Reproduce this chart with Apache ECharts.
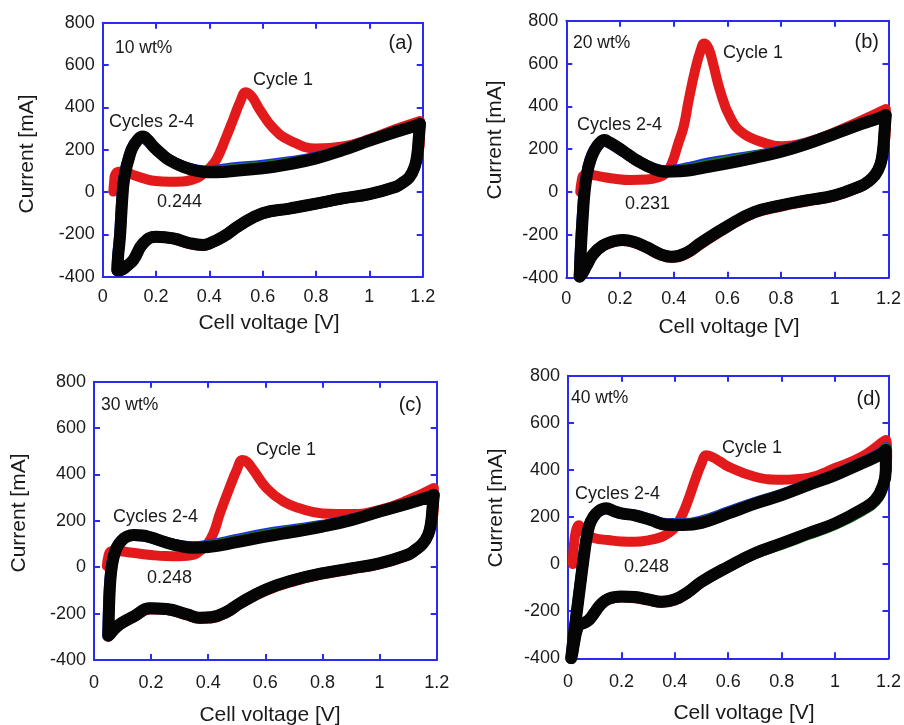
<!DOCTYPE html>
<html>
<head>
<meta charset="utf-8">
<script src="https://cdn.jsdelivr.net/npm/echarts@6/dist/echarts.min.js"></script>
<style>
  html, body { margin: 0; padding: 0; background: #ffffff; }
  #chart { width: 904px; height: 725px; }
</style>
</head>
<body>
<div id="chart"></div>
<script>
// Cyclic voltammograms, [cell voltage (V), current (mA)] along each sweep.

// ---- (a) 10 wt% ----
const cycle1A = [[0.04,2],[0.043,50],[0.047,82],[0.06,96],[0.077,96],[0.12,78],[0.16,62],[0.2,52],[0.25,49],[0.3,50],[0.34,60],[0.365,74],[0.4,112],[0.427,155],[0.46,250],[0.49,345],[0.515,425],[0.537,472],[0.56,450],[0.59,387],[0.64,301],[0.7,245],[0.8,206],[0.9,215],[1.0,250],[1.1,298],[1.19,336],[1.19,250],[1.182,170],[1.168,112],[1.148,66],[1.12,37],[1.1,22],[1.0,-13],[0.9,-33],[0.8,-58],[0.7,-80],[0.6,-104],[0.515,-160],[0.452,-215],[0.4,-247],[0.377,-254],[0.327,-246],[0.265,-223],[0.2,-214],[0.152,-245],[0.115,-323],[0.09,-352],[0.07,-370],[0.055,-372]];
const cycle2A = [[0.053,-370],[0.056,-300],[0.06,-250],[0.064,-190],[0.068,-100],[0.072,-20],[0.076,40],[0.084,100],[0.094,150],[0.108,203],[0.128,243],[0.148,258],[0.168,242],[0.19,213],[0.22,180],[0.25,152],[0.3,122],[0.35,104],[0.4,99],[0.45,108],[0.5,116],[0.6,127],[0.7,143],[0.8,165],[0.9,200],[1.0,244],[1.1,286],[1.17,313],[1.19,324],[1.185,250],[1.18,180],[1.17,120],[1.15,70],[1.12,40],[1.1,25],[1.0,-10],[0.9,-30],[0.8,-55],[0.7,-78],[0.6,-100],[0.515,-156],[0.452,-211],[0.4,-243],[0.377,-250],[0.327,-242],[0.265,-219],[0.2,-211],[0.152,-242],[0.115,-321],[0.09,-350],[0.07,-368],[0.055,-370]];
const cycle3A = [[0.055,-370],[0.058,-300],[0.062,-250],[0.066,-190],[0.07,-100],[0.074,-20],[0.078,40],[0.086,100],[0.096,150],[0.11,205],[0.13,245],[0.15,261],[0.17,244],[0.19,214],[0.22,180],[0.25,151],[0.3,121],[0.35,102],[0.4,96],[0.45,101],[0.5,109],[0.6,120],[0.7,137],[0.8,162],[0.9,199],[1.0,243],[1.1,285],[1.17,312],[1.19,322],[1.185,250],[1.18,180],[1.17,120],[1.15,70],[1.12,40],[1.1,25],[1.0,-10],[0.9,-30],[0.8,-55],[0.7,-78],[0.6,-100],[0.515,-156],[0.452,-211],[0.4,-243],[0.377,-250],[0.327,-242],[0.265,-219],[0.2,-211],[0.152,-242],[0.115,-321],[0.09,-350],[0.07,-368],[0.055,-370]];
const cycle4A = [[0.055,-370],[0.058,-300],[0.062,-250],[0.066,-190],[0.07,-100],[0.074,-20],[0.078,40],[0.086,100],[0.096,150],[0.11,205],[0.13,245],[0.15,262],[0.17,245],[0.19,215],[0.22,180],[0.25,151],[0.3,120],[0.35,101],[0.4,93],[0.45,95],[0.5,101],[0.6,112],[0.7,132],[0.8,159],[0.9,198],[1.0,243],[1.1,285],[1.17,312],[1.19,322],[1.185,250],[1.18,180],[1.17,120],[1.15,70],[1.12,40],[1.1,25],[1.0,-10],[0.9,-30],[0.8,-55],[0.7,-78],[0.6,-100],[0.515,-156],[0.452,-211],[0.4,-243],[0.377,-250],[0.327,-242],[0.265,-219],[0.2,-211],[0.152,-242],[0.115,-321],[0.09,-350],[0.07,-368],[0.055,-370]];

// ---- (b) 20 wt% ----
const cycle1B = [[0.052,0],[0.057,50],[0.065,78],[0.09,80],[0.13,72],[0.18,62],[0.24,56],[0.3,58],[0.34,68],[0.37,87],[0.393,134],[0.417,227],[0.437,305],[0.456,430],[0.48,570],[0.5,660],[0.514,694],[0.53,670],[0.548,593],[0.572,476],[0.609,352],[0.658,274],[0.744,227],[0.8,214],[0.9,234],[1.0,280],[1.1,335],[1.19,388],[1.19,290],[1.182,200],[1.168,128],[1.148,76],[1.12,42],[1.1,26],[1.0,-20],[0.9,-43],[0.8,-68],[0.7,-100],[0.6,-166],[0.5,-246],[0.45,-288],[0.393,-308],[0.35,-296],[0.3,-263],[0.25,-237],[0.21,-229],[0.17,-236],[0.136,-254],[0.1,-293],[0.075,-347],[0.06,-382],[0.05,-396]];
const cycle2B = [[0.048,-395],[0.051,-300],[0.055,-200],[0.06,-100],[0.066,0],[0.076,90],[0.088,150],[0.103,195],[0.123,228],[0.14,240],[0.158,230],[0.195,202],[0.23,174],[0.26,150],[0.32,113],[0.368,100],[0.42,106],[0.467,118],[0.53,136],[0.6,150],[0.7,170],[0.8,194],[0.9,229],[1.0,273],[1.1,318],[1.17,348],[1.19,360],[1.185,280],[1.18,200],[1.17,130],[1.15,80],[1.12,45],[1.1,30],[1.0,-15],[0.9,-38],[0.8,-62],[0.7,-94],[0.6,-160],[0.5,-238],[0.45,-282],[0.393,-302],[0.35,-290],[0.3,-258],[0.25,-232],[0.21,-224],[0.17,-232],[0.136,-250],[0.1,-290],[0.075,-345],[0.06,-380],[0.05,-395]];
const cycle3B = [[0.05,-395],[0.053,-300],[0.057,-200],[0.062,-100],[0.068,0],[0.078,90],[0.09,150],[0.105,195],[0.125,230],[0.142,242],[0.16,232],[0.197,204],[0.23,175],[0.26,150],[0.32,112],[0.368,97],[0.42,101],[0.467,110],[0.53,128],[0.6,144],[0.7,166],[0.8,191],[0.9,228],[1.0,272],[1.1,318],[1.17,348],[1.19,360],[1.185,280],[1.18,200],[1.17,130],[1.15,80],[1.12,45],[1.1,30],[1.0,-15],[0.9,-38],[0.8,-62],[0.7,-94],[0.6,-160],[0.5,-238],[0.45,-282],[0.393,-302],[0.35,-290],[0.3,-258],[0.25,-232],[0.21,-224],[0.17,-232],[0.136,-250],[0.1,-290],[0.075,-345],[0.06,-380],[0.05,-395]];
const cycle4B = [[0.05,-395],[0.053,-300],[0.057,-200],[0.062,-100],[0.068,0],[0.078,90],[0.09,150],[0.105,195],[0.125,230],[0.142,243],[0.16,232],[0.197,204],[0.23,175],[0.26,150],[0.32,111],[0.368,95],[0.42,97],[0.467,103],[0.53,118],[0.6,134],[0.7,160],[0.8,188],[0.9,226],[1.0,272],[1.1,318],[1.17,348],[1.19,360],[1.185,280],[1.18,200],[1.17,130],[1.15,80],[1.12,45],[1.1,30],[1.0,-15],[0.9,-38],[0.8,-62],[0.7,-94],[0.6,-160],[0.5,-238],[0.45,-282],[0.393,-302],[0.35,-290],[0.3,-258],[0.25,-232],[0.21,-224],[0.17,-232],[0.136,-250],[0.1,-290],[0.075,-345],[0.06,-380],[0.05,-395]];

// ---- (c) 30 wt% ----
const cycle1C = [[0.045,5],[0.05,45],[0.058,68],[0.075,72],[0.1,68],[0.15,60],[0.2,53],[0.25,48],[0.3,47],[0.35,54],[0.38,80],[0.395,96],[0.418,146],[0.441,232],[0.476,347],[0.5,420],[0.52,462],[0.535,455],[0.558,419],[0.605,340],[0.663,283],[0.72,254],[0.8,232],[0.9,229],[1.0,247],[1.1,290],[1.19,342],[1.19,260],[1.182,185],[1.168,135],[1.148,95],[1.12,65],[1.1,50],[1.0,12],[0.9,-10],[0.8,-31],[0.7,-61],[0.6,-103],[0.51,-161],[0.465,-197],[0.41,-221],[0.37,-223],[0.325,-208],[0.254,-185],[0.196,-182],[0.138,-217],[0.1,-242],[0.08,-260],[0.065,-279],[0.055,-294],[0.05,-300]];
const cycle2C = [[0.048,-295],[0.05,-200],[0.053,-100],[0.058,-20],[0.066,40],[0.078,85],[0.093,112],[0.113,131],[0.14,137],[0.17,135],[0.2,127],[0.25,108],[0.3,94],[0.35,88],[0.4,95],[0.5,120],[0.6,145],[0.7,163],[0.8,181],[0.9,206],[1.0,241],[1.1,276],[1.17,303],[1.19,314],[1.185,250],[1.18,190],[1.17,140],[1.15,100],[1.12,70],[1.1,55],[1.0,17],[0.9,-5],[0.8,-26],[0.7,-55],[0.6,-97],[0.51,-156],[0.465,-192],[0.41,-216],[0.37,-218],[0.325,-203],[0.254,-180],[0.196,-177],[0.138,-213],[0.1,-238],[0.08,-256],[0.065,-275],[0.055,-290],[0.05,-295]];
const cycle3C = [[0.05,-295],[0.052,-200],[0.055,-100],[0.06,-20],[0.068,40],[0.08,85],[0.095,112],[0.115,132],[0.14,139],[0.17,137],[0.2,128],[0.25,108],[0.3,93],[0.35,86],[0.4,91],[0.5,114],[0.6,139],[0.7,158],[0.8,178],[0.9,204],[1.0,240],[1.1,275],[1.17,302],[1.19,312],[1.185,250],[1.18,190],[1.17,140],[1.15,100],[1.12,70],[1.1,55],[1.0,17],[0.9,-5],[0.8,-26],[0.7,-55],[0.6,-97],[0.51,-156],[0.465,-192],[0.41,-216],[0.37,-218],[0.325,-203],[0.254,-180],[0.196,-177],[0.138,-213],[0.1,-238],[0.08,-256],[0.065,-275],[0.055,-290],[0.05,-295]];
const cycle4C = [[0.05,-295],[0.052,-200],[0.055,-100],[0.06,-20],[0.068,40],[0.08,85],[0.095,112],[0.115,132],[0.14,139],[0.17,137],[0.2,128],[0.25,108],[0.3,92],[0.35,84],[0.4,87],[0.5,108],[0.6,132],[0.7,153],[0.8,175],[0.9,203],[1.0,240],[1.1,275],[1.17,302],[1.19,312],[1.185,250],[1.18,190],[1.17,140],[1.15,100],[1.12,70],[1.1,55],[1.0,17],[0.9,-5],[0.8,-26],[0.7,-55],[0.6,-97],[0.51,-156],[0.465,-192],[0.41,-216],[0.37,-218],[0.325,-203],[0.254,-180],[0.196,-177],[0.138,-213],[0.1,-238],[0.08,-256],[0.065,-275],[0.055,-290],[0.05,-295]];

// ---- (d) 40 wt% ----
const cycle1D = [[0.018,0],[0.02,50],[0.025,110],[0.032,150],[0.04,165],[0.05,150],[0.064,130],[0.1,110],[0.15,102],[0.2,96],[0.25,95],[0.3,101],[0.35,115],[0.38,135],[0.4,155],[0.43,215],[0.45,272],[0.48,370],[0.5,428],[0.517,462],[0.54,455],[0.57,435],[0.6,414],[0.7,371],[0.8,358],[0.9,366],[1.0,408],[1.1,456],[1.19,527],[1.195,450],[1.19,380],[1.18,335],[1.15,270],[1.1,229],[1.0,169],[0.9,127],[0.8,84],[0.7,42],[0.6,-15],[0.5,-79],[0.45,-123],[0.4,-155],[0.35,-165],[0.3,-155],[0.25,-145],[0.2,-142],[0.15,-152],[0.12,-178],[0.1,-208],[0.08,-238],[0.06,-253],[0.045,-259],[0.035,-275],[0.025,-322],[0.016,-382],[0.012,-400]];
const cycle2D = [[0.011,-400],[0.019,-320],[0.029,-230],[0.039,-140],[0.049,-50],[0.057,20],[0.067,100],[0.079,165],[0.094,200],[0.114,224],[0.142,234],[0.17,224],[0.2,214],[0.25,208],[0.31,190],[0.37,172],[0.43,172],[0.5,184],[0.6,222],[0.7,262],[0.8,297],[0.9,339],[1.0,381],[1.1,432],[1.17,472],[1.19,495],[1.19,400],[1.18,335],[1.15,272],[1.1,232],[1.0,173],[0.9,131],[0.8,88],[0.7,46],[0.6,-11],[0.5,-75],[0.45,-118],[0.4,-150],[0.35,-160],[0.3,-150],[0.25,-140],[0.2,-138],[0.15,-148],[0.12,-175],[0.1,-205],[0.08,-235],[0.06,-250],[0.045,-256],[0.035,-272],[0.025,-320],[0.016,-380],[0.012,-400]];
const cycle3D = [[0.012,-400],[0.02,-320],[0.03,-230],[0.04,-140],[0.05,-50],[0.058,20],[0.068,100],[0.08,165],[0.095,200],[0.115,225],[0.143,236],[0.17,226],[0.2,215],[0.25,207],[0.31,188],[0.37,169],[0.43,169],[0.5,179],[0.6,218],[0.7,259],[0.8,295],[0.9,337],[1.0,379],[1.1,430],[1.17,469],[1.19,492],[1.19,400],[1.18,330],[1.15,266],[1.1,226],[1.0,168],[0.9,126],[0.8,84],[0.7,44],[0.6,-12],[0.5,-75],[0.45,-118],[0.4,-150],[0.35,-160],[0.3,-150],[0.25,-140],[0.2,-138],[0.15,-148],[0.12,-175],[0.1,-205],[0.08,-235],[0.06,-250],[0.045,-256],[0.035,-272],[0.025,-320],[0.016,-380],[0.012,-400]];
const cycle4D = [[0.012,-400],[0.02,-320],[0.03,-230],[0.04,-140],[0.05,-50],[0.058,20],[0.068,100],[0.08,165],[0.095,200],[0.115,225],[0.143,237],[0.17,226],[0.2,215],[0.25,207],[0.31,187],[0.37,167],[0.43,166],[0.5,175],[0.6,215],[0.7,257],[0.8,293],[0.9,336],[1.0,378],[1.1,428],[1.17,465],[1.19,485],[1.19,400],[1.18,335],[1.15,272],[1.1,232],[1.0,173],[0.9,131],[0.8,88],[0.7,46],[0.6,-11],[0.5,-75],[0.45,-118],[0.4,-150],[0.35,-160],[0.3,-150],[0.25,-140],[0.2,-138],[0.15,-148],[0.12,-175],[0.1,-205],[0.08,-235],[0.06,-250],[0.045,-256],[0.035,-272],[0.025,-320],[0.016,-380],[0.012,-400]];

// Panel texts
const panelTags = ['(a)', '(b)', '(c)', '(d)'];
const loadings = ['10 wt%', '20 wt%', '30 wt%', '40 wt%'];
const minimumVoltages = ['0.244', '0.231', '0.248', '0.248'];
const firstCycleLabel = 'Cycle 1';
const laterCycleLabel = 'Cycles 2-4';
const xTitle = 'Cell voltage [V]';
const yTitle = 'Current [mA]';
const voltRange = [0, 1.2, 0.2];
const currentRange = [-400, 800, 200];

const cycleSets = [
  [cycle1A, cycle2A, cycle3A, cycle4A],
  [cycle1B, cycle2B, cycle3B, cycle4B],
  [cycle1C, cycle2C, cycle3C, cycle4C],
  [cycle1D, cycle2D, cycle3D, cycle4D]
];

// Layout of the four panels (pixels)
const layout = [
  { left: 102.7, top: 22.7, width: 320, height: 254, xLabelMargin: 11, clip: false,
    yTitle: [27, 154], xTitle: [269, 323], load: [115, 48], tag: [413, 43],
    c1: [253, 80], c24: [109, 122], vmin: [157, 202] },
  { left: 566.3, top: 20.7, width: 326.4, height: 257, xLabelMargin: 12, clip: false,
    yTitle: [495, 140], xTitle: [729, 327], load: [573, 43], tag: [879, 42],
    c1: [723, 53], c24: [577, 125], vmin: [625, 204] },
  { left: 94, top: 381.7, width: 342.7, height: 278.3, xLabelMargin: 14, clip: false,
    yTitle: [19, 513], xTitle: [270, 715], load: [101, 405], tag: [422, 405],
    c1: [256, 450], c24: [113, 517], vmin: [147, 578] },
  { left: 568, top: 375.7, width: 326.7, height: 282.6, xLabelMargin: 15, clip: true,
    yTitle: [496, 508], xTitle: [744, 713], load: [571, 398], tag: [881, 399],
    c1: [722, 448], c24: [575, 494], vmin: [624, 567] }
];

const FONT = '"Liberation Sans", Arial, Helvetica, sans-serif';
const FRAME = '#2a2af2';
const TEXT = '#1a1a1a';
const cycleColors = ['#e31a1c', '#1c2ee6', '#1c7a24', '#050505'];
const cycleWidths = [10, 11, 11, 12];

const grids = [], xAxes = [], yAxes = [], series = [], graphics = [];

layout.forEach((L, i) => {
  grids.push({ left: L.left, top: L.top, width: L.width, height: L.height });

  const frameLine = { show: true, onZero: false, lineStyle: { color: FRAME, width: 2 } };
  const frameTick = { show: true, inside: true, length: 6, lineStyle: { color: FRAME, width: 2 } };

  ['bottom', 'top'].forEach(pos => {
    xAxes.push({
      type: 'value', gridIndex: i, position: pos,
      min: voltRange[0], max: voltRange[1], interval: voltRange[2],
      axisLine: frameLine, axisTick: frameTick, splitLine: { show: false },
      axisLabel: pos === 'bottom'
        ? { show: true, margin: L.xLabelMargin, fontSize: 18, color: TEXT, fontFamily: FONT }
        : { show: false }
    });
  });
  ['left', 'right'].forEach(pos => {
    yAxes.push({
      type: 'value', gridIndex: i, position: pos,
      min: currentRange[0], max: currentRange[1], interval: currentRange[2],
      axisLine: frameLine, axisTick: frameTick, splitLine: { show: false },
      axisLabel: pos === 'left'
        ? { show: true, margin: 8, fontSize: 18, color: TEXT, fontFamily: FONT }
        : { show: false }
    });
  });

  cycleSets[i].forEach((data, k) => {
    series.push({
      type: 'line', name: 'Cycle ' + (k + 1),
      xAxisIndex: 2 * i, yAxisIndex: 2 * i,
      data: data, showSymbol: false, smooth: 0.45,
      clip: L.clip,
      lineStyle: { color: cycleColors[k], width: cycleWidths[k], cap: 'round', join: 'round' },
      emphasis: { disabled: true }, z: 2 + k
    });
  });

  const txt = (pos, text, size, align, extra) => Object.assign({
    type: 'text', x: pos[0], y: pos[1], z: 10,
    style: { text: text, fill: TEXT, font: size + 'px ' + FONT, textAlign: align, textVerticalAlign: 'middle' }
  }, extra || {});

  graphics.push(txt(L.load, loadings[i], 17.5, 'left'));
  graphics.push(txt(L.tag, panelTags[i], 20, 'right'));
  graphics.push(txt(L.c1, firstCycleLabel, 18, 'left'));
  graphics.push(txt(L.c24, laterCycleLabel, 18, 'left'));
  graphics.push(txt(L.vmin, minimumVoltages[i], 18, 'left'));
  graphics.push(txt(L.xTitle, xTitle, 21, 'center'));
  graphics.push(txt(L.yTitle, yTitle, 21, 'center', { rotation: Math.PI / 2 }));
});

const chart = echarts.init(document.getElementById('chart'), null, { renderer: 'canvas' });
chart.setOption({
  animation: false,
  backgroundColor: '#ffffff',
  grid: grids,
  xAxis: xAxes,
  yAxis: yAxes,
  series: series,
  graphic: graphics
});
</script>
</body>
</html>
